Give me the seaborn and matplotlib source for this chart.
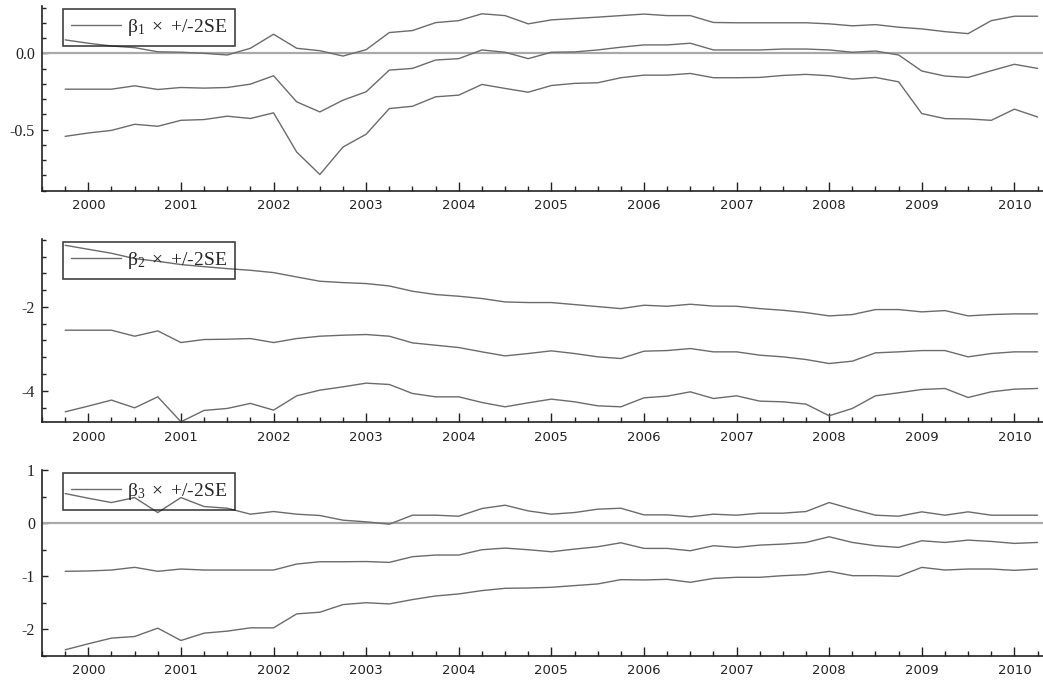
import numpy as np
import pandas as pd
import matplotlib
matplotlib.use("Agg")
import matplotlib.pyplot as plt
import seaborn as sns
from matplotlib.ticker import MultipleLocator, FormatStrFormatter

# quarterly estimates, 1999Q4 .. 2010Q2
quarters = pd.period_range("1999Q4", "2010Q2", freq="Q")
years = np.asarray(quarters.year + (quarters.quarter - 1) / 4.0, dtype=float)

# beta_1 and +/- 2SE bands
b1_upper = [0.088, 0.066, 0.048, 0.037, 0.010, 0.007, 0.000, -0.011, 0.033, 0.125,
            0.033, 0.017, -0.018, 0.024, 0.136, 0.149, 0.201, 0.214, 0.259, 0.247,
            0.193, 0.219, 0.228, 0.237, 0.247, 0.257, 0.247, 0.247, 0.202, 0.200,
            0.200, 0.200, 0.200, 0.193, 0.180, 0.188, 0.171, 0.160, 0.142, 0.129,
            0.214, 0.243, 0.243]
b1_coef = [-0.235, -0.235, -0.235, -0.213, -0.237, -0.224, -0.228, -0.224, -0.202, -0.147,
           -0.318, -0.384, -0.307, -0.252, -0.110, -0.099, -0.044, -0.035, 0.022, 0.007,
           -0.035, 0.007, 0.009, 0.022, 0.040, 0.055, 0.055, 0.066, 0.022, 0.022,
           0.022, 0.028, 0.028, 0.022, 0.007, 0.015, -0.011, -0.116, -0.149, -0.158,
           -0.114, -0.072, -0.099]
b1_lower = [-0.544, -0.522, -0.505, -0.465, -0.478, -0.439, -0.434, -0.412, -0.427, -0.390,
            -0.647, -0.794, -0.614, -0.530, -0.362, -0.347, -0.285, -0.274, -0.204, -0.230,
            -0.255, -0.211, -0.197, -0.193, -0.160, -0.143, -0.143, -0.132, -0.160, -0.160,
            -0.158, -0.145, -0.138, -0.147, -0.169, -0.158, -0.187, -0.395, -0.428, -0.430,
            -0.439, -0.366, -0.417]

# beta_2 and +/- 2SE bands
b2_upper = [-0.531, -0.626, -0.721, -0.848, -0.912, -0.990, -1.040, -1.087, -1.127, -1.182,
            -1.286, -1.388, -1.420, -1.443, -1.500, -1.626, -1.705, -1.745, -1.800, -1.881,
            -1.896, -1.896, -1.944, -1.992, -2.040, -1.960, -1.984, -1.936, -1.980, -1.984,
            -2.040, -2.079, -2.135, -2.214, -2.182, -2.063, -2.063, -2.118, -2.087, -2.214,
            -2.182, -2.166, -2.166]
b2_coef = [-2.555, -2.555, -2.555, -2.698, -2.571, -2.849, -2.777, -2.770, -2.754, -2.849,
           -2.754, -2.698, -2.674, -2.658, -2.698, -2.857, -2.913, -2.968, -3.071, -3.167,
           -3.111, -3.047, -3.111, -3.190, -3.230, -3.055, -3.040, -2.992, -3.071, -3.071,
           -3.150, -3.190, -3.254, -3.349, -3.293, -3.095, -3.071, -3.040, -3.040, -3.190,
           -3.111, -3.071, -3.071]
b2_lower = [-4.500, -4.364, -4.221, -4.405, -4.143, -4.738, -4.467, -4.420, -4.300, -4.460,
            -4.119, -3.984, -3.905, -3.817, -3.849, -4.063, -4.143, -4.143, -4.278, -4.381,
            -4.286, -4.198, -4.262, -4.357, -4.381, -4.167, -4.127, -4.024, -4.183, -4.119,
            -4.246, -4.262, -4.317, -4.595, -4.420, -4.119, -4.047, -3.968, -3.944, -4.159,
            -4.024, -3.960, -3.944]

# beta_3 and +/- 2SE bands
b3_upper = [0.557, 0.469, 0.388, 0.482, 0.200, 0.482, 0.313, 0.281, 0.169, 0.219,
            0.169, 0.144, 0.056, 0.025, -0.019, 0.150, 0.150, 0.131, 0.275, 0.338,
            0.231, 0.169, 0.200, 0.263, 0.281, 0.156, 0.156, 0.119, 0.169, 0.150,
            0.188, 0.188, 0.219, 0.388, 0.263, 0.150, 0.131, 0.213, 0.150, 0.213,
            0.150, 0.150, 0.150]
b3_coef = [-0.906, -0.900, -0.882, -0.831, -0.906, -0.863, -0.882, -0.882, -0.882, -0.882,
           -0.769, -0.726, -0.726, -0.722, -0.738, -0.631, -0.600, -0.600, -0.500, -0.469,
           -0.500, -0.538, -0.488, -0.444, -0.369, -0.475, -0.475, -0.519, -0.425, -0.456,
           -0.413, -0.394, -0.363, -0.256, -0.363, -0.425, -0.456, -0.331, -0.363, -0.319,
           -0.344, -0.381, -0.363]
b3_lower = [-2.383, -2.270, -2.163, -2.133, -1.976, -2.208, -2.070, -2.032, -1.970, -1.970,
            -1.707, -1.676, -1.532, -1.497, -1.520, -1.438, -1.370, -1.332, -1.269, -1.226,
            -1.220, -1.207, -1.175, -1.144, -1.063, -1.069, -1.057, -1.113, -1.040, -1.019,
            -1.019, -0.988, -0.969, -0.907, -0.988, -0.988, -1.000, -0.832, -0.882, -0.863,
            -0.863, -0.888, -0.863]

legend_labels = [r"$\beta_{1}\ \times$ +/-2SE", r"$\beta_{2}\ \times$ +/-2SE", r"$\beta_{3}\ \times$ +/-2SE"]
year_ticks = list(range(2000, 2011))

sns.set_style("ticks")
plt.rcParams["axes.unicode_minus"] = False
plt.rcParams["mathtext.fontset"] = "stix"
plt.rcParams["mathtext.default"] = "regular"
plt.rcParams["font.family"] = ["DejaVu Sans"]

line_col = "#6b6b6b"
fig = plt.figure(figsize=(10.43, 6.81), dpi=100)

panels = [
    # rect, ylim, major, minor, fmt, zero line
    ([0.0403, 0.7200, 0.99, 0.2712], (-0.90, 0.31), 0.5, 0.1, "%.1f", True),
    ([0.0403, 0.3799, 0.99, 0.2692], (-4.75, -0.38), 2.0, 0.4, "%d", False),
    ([0.0403, 0.0367, 0.99, 0.2731], (-2.5, 1.0), 1.0, 0.5, "%d", True),
]
series = [(b1_upper, b1_coef, b1_lower), (b2_upper, b2_coef, b2_lower), (b3_upper, b3_coef, b3_lower)]

for (rect, ylim, major, minor, fmt, zero), (up, coef, lo), lab in zip(panels, series, legend_labels):
    ax = fig.add_axes(rect)
    if zero:
        ax.axhline(0, color="#a9a9a9", lw=1.6, zorder=1)
    sns.lineplot(x=years, y=up, ax=ax, color=line_col, lw=1.0, zorder=2)
    sns.lineplot(x=years, y=coef, ax=ax, color=line_col, lw=1.0, zorder=2)
    sns.lineplot(x=years, y=lo, ax=ax, color=line_col, lw=1.0, zorder=2)
    coef_line = ax.lines[-2]

    ax.set_xlim(1999.5, 2010.65)
    ax.set_ylim(*ylim)
    ax.set_xticks(year_ticks)
    ax.xaxis.set_major_formatter(FormatStrFormatter("%d"))
    ax.xaxis.set_minor_locator(MultipleLocator(0.25))
    ax.yaxis.set_major_locator(MultipleLocator(major))
    ax.yaxis.set_minor_locator(MultipleLocator(minor))
    ax.yaxis.set_major_formatter(FormatStrFormatter(fmt))
    ax.set_xlabel("")
    ax.set_ylabel("")

    sns.despine(ax=ax)
    for s in ("left", "bottom"):
        ax.spines[s].set_color("#222222")
        ax.spines[s].set_linewidth(1.2)
    ax.tick_params(axis="x", which="major", direction="in", length=6.5, width=1, color="#222222",
                   pad=6, labelsize=9.5, labelcolor="#222222")
    ax.tick_params(axis="x", which="minor", direction="in", length=3.5, width=1, color="#222222")
    ax.tick_params(axis="y", which="major", direction="in", length=4, width=1, color="#222222",
                   pad=5, labelsize=11.5, labelcolor="#222222")
    ax.tick_params(axis="y", which="minor", direction="in", length=3, width=1, color="#222222")
    for t in ax.get_yticklabels():
        t.set_fontfamily("Liberation Serif")

    leg = ax.legend([coef_line], [lab], loc="upper left", bbox_to_anchor=(0.02, 0.984),
                    borderaxespad=0, fancybox=False, frameon=True, handlelength=2.6,
                    handletextpad=0.3, borderpad=0.42,
                    prop={"family": "Liberation Serif", "size": 14})
    leg.get_frame().set_edgecolor("#111111")
    leg.get_frame().set_facecolor("none")
    leg.get_frame().set_linewidth(1.2)

fig.savefig("out.png", dpi=100)
